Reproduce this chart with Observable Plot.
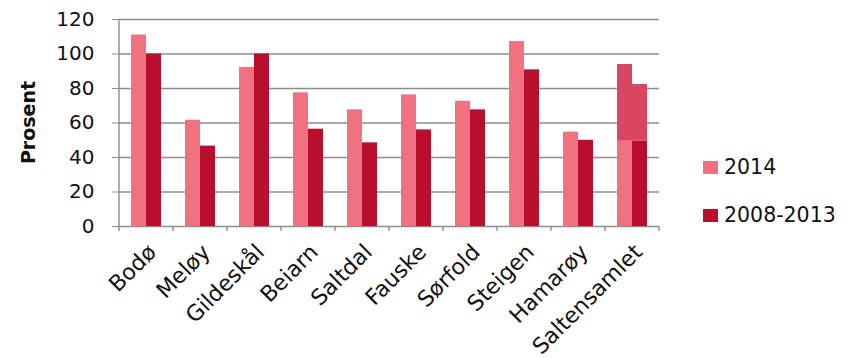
<!DOCTYPE html>
<html>
<head>
<meta charset="utf-8">
<script src="https://cdn.jsdelivr.net/npm/d3@7"></script>
<script src="https://cdn.jsdelivr.net/npm/@observablehq/plot@0.6"></script>
<style>
  html, body { margin: 0; padding: 0; background: #fff; }
  #wrap { position: relative; width: 858px; height: 358px; font-family: "DejaVu Sans", sans-serif; }
  .leg { position: absolute; left: 703px; display: flex; align-items: center; font-size: 20.5px; color: #111; }
  .sw { width: 15px; height: 13px; margin-right: 6px; }
</style>
</head>
<body>
<div id="wrap"></div>
<script>
const categories = ["Bodø", "Meløy", "Gildeskål", "Beiarn", "Saltdal", "Fauske", "Sørfold", "Steigen", "Hamarøy", "Saltensamlet"];
const series = ["2014", "2008-2013"];
const values2014 = [111, 61.6, 92.2, 77.5, 67.6, 76.3, 72.6, 107.2, 54.7, 93.9];
const values2008_2013 = [100, 46.6, 100, 56.4, 48.5, 56, 67.6, 90.8, 50, 82.3];
const highlightCategory = "Saltensamlet";
const highlightFrom = 49.4;
const yTicks = [0, 20, 40, 60, 80, 100, 120];
const colors = {"2014": "#f0717f", "2008-2013": "#b80f2d", "highlight": "#d9475e"};

const rows = [];
categories.forEach((c, i) => {
  [[series[0], values2014[i]], [series[1], values2008_2013[i]]].forEach(([s, v]) => {
    if (c === highlightCategory) {
      rows.push({cat: c, s, y1: 0, y2: highlightFrom, key: s});
      rows.push({cat: c, s, y1: highlightFrom, y2: v, key: "highlight"});
    } else {
      rows.push({cat: c, s, y1: 0, y2: v, key: s});
    }
  });
});

const chart = Plot.plot({
  width: 858,
  height: 358,
  marginLeft: 117,
  marginRight: 197,
  marginTop: 19,
  marginBottom: 132,
  style: {fontFamily: "DejaVu Sans, sans-serif", color: "#111", background: "#fff"},
  fx: {domain: categories, padding: 0, label: null},
  x: {domain: series, paddingInner: 0, paddingOuter: 0.75, axis: null},
  y: {domain: [0, 120], label: null},
  color: {domain: Object.keys(colors), range: Object.values(colors)},
  marks: [
    Plot.ruleY(yTicks, {stroke: "#8c8c8c", strokeWidth: 1.4}),
    Plot.rectY(rows, {fx: "cat", x: "s", y1: "y1", y2: "y2", fill: "key"}),
    Plot.axisY({ticks: yTicks, tickSize: 7, tickPadding: 18, fontSize: 20, stroke: "#8c8c8c", label: null}),
    Plot.axisFx({anchor: "bottom", tickSize: 0, tickRotate: -45, fontSize: 22, tickPadding: 22, dx: 6, label: null})
  ]
});

// axis line and category boundary ticks from the plot's scales
const fx = chart.scale("fx");
const y = chart.scale("y");
const svg = d3.select(chart);
const g = svg.append("g").attr("stroke", "#8c8c8c").attr("stroke-width", 1.4);
const x0 = fx.apply(categories[0]);
g.append("line").attr("x1", x0).attr("x2", x0).attr("y1", y.apply(120)).attr("y2", y.apply(0) + 5);
categories.forEach(c => {
  const xe = fx.apply(c) + fx.bandwidth;
  g.append("line").attr("x1", xe).attr("x2", xe).attr("y1", y.apply(0)).attr("y2", y.apply(0) + 5);
});
// y axis title
svg.append("text")
  .attr("transform", `translate(35,${(y.apply(0) + y.apply(120)) / 2}) rotate(-90)`)
  .attr("text-anchor", "middle")
  .attr("font-size", 19).attr("font-weight", "bold").attr("fill", "#111")
  .text("Prosent");

const wrap = document.getElementById("wrap");
wrap.appendChild(chart);
[[series[0], 155], [series[1], 203]].forEach(([s, top]) => {
  const d = document.createElement("div");
  d.className = "leg";
  d.style.top = top + "px";
  d.innerHTML = `<div class="sw" style="background:${colors[s]}"></div><span>${s}</span>`;
  wrap.appendChild(d);
});
</script>
</body>
</html>
